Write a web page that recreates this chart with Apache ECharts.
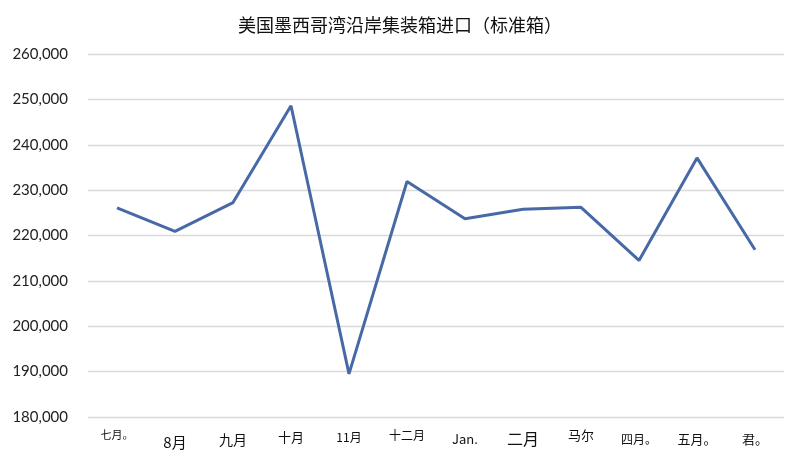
<!DOCTYPE html>
<html>
<head>
<meta charset="utf-8">
<script src="https://cdn.jsdelivr.net/npm/echarts@6/dist/echarts.min.js"></script>
<style>
html,body{margin:0;padding:0;background:#fff;}
#c{width:800px;height:458px;}
</style>
</head>
<body>
<div id="c"></div>
<script>
const titleText = '美国墨西哥湾沿岸集装箱进口（标准箱）';
const categories = ['七月。', '8月', '九月', '十月', '11月', '十二月', 'Jan.', '二月', '马尔', '四月。', '五月。', '君。'];
const imports = [226100, 220900, 227250, 248600, 189500, 231900, 223700, 225800, 226200, 214500, 237100, 216850];
const yTicks = { min: 180000, max: 260000, step: 10000 };

// label appearance (style only)
const labelFontSizes = [11, 15, 14, 13, 12, 12, 13, 16, 13, 12, 13, 13];
const labelOffsets = [-1, 2, 1, 0, 0, -1, 1, 0, -1, 1, 1, 1];

const chart = echarts.init(document.getElementById('c'));
chart.setOption({
  backgroundColor: '#ffffff',
  title: {
    text: titleText,
    left: 'center',
    top: 11,
    textStyle: { fontFamily: 'Noto Sans CJK SC', fontSize: 18, fontWeight: 'normal', color: '#111' }
  },
  grid: { left: 88, right: 16, top: 54, bottom: 41 },
  xAxis: {
    type: 'category',
    boundaryGap: true,
    data: categories.map((c, i) => ({
      value: c,
      textStyle: { fontSize: labelFontSizes[i], padding: [labelOffsets[i] * 2, 0, 0, 0] }
    })),
    axisLine: { show: false },
    axisTick: { show: false },
    axisLabel: {
      interval: 0,
      margin: 14,
      color: '#111',
      fontFamily: 'Noto Sans CJK SC'
    }
  },
  yAxis: {
    type: 'value',
    min: yTicks.min,
    max: yTicks.max,
    interval: yTicks.step,
    axisLine: { show: false },
    axisTick: { show: false },
    splitLine: { lineStyle: { color: '#d9d9d9', width: 1.3 } },
    axisLabel: {
      margin: 20,
      color: '#222',
      fontFamily: 'Lato',
      fontSize: 15,
      formatter: v => v.toLocaleString('en-US')
    }
  },
  series: [{
    type: 'line',
    data: imports,
    symbol: 'none',
    lineStyle: { color: '#476aa6', width: 3 },
    animation: false
  }],
  animation: false
});
</script>
</body>
</html>
